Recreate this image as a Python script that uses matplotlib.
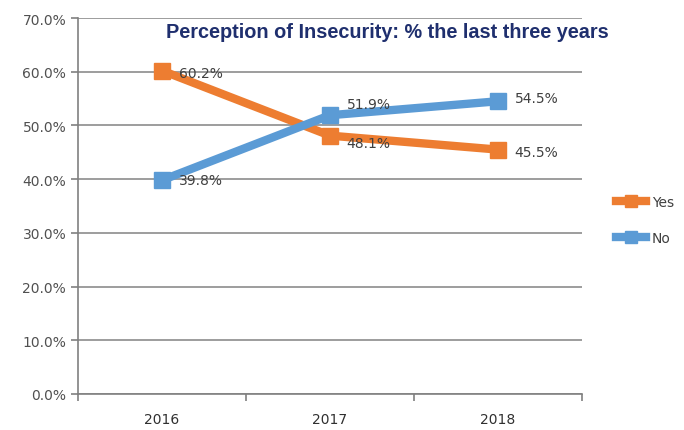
import numpy as np
import matplotlib.pyplot as plt

years = ['2016', '2017', '2018']
yes = [60.2, 48.1, 45.5]
no = [39.8, 51.9, 54.5]
yticks = [0, 10, 20, 30, 40, 50, 60, 70]

orange = '#ED7D31'
blue = '#5B9BD5'

fig = plt.figure(figsize=(6.84, 4.31), dpi=100)
ax = fig.add_axes([78/684, 36/431, 504/684, 376/431])

x = np.arange(len(years))
ax.plot(x, yes, color=orange, linewidth=6, marker='s', markersize=11,
        label='Yes', zorder=3)
ax.plot(x, no, color=blue, linewidth=6, marker='s', markersize=11,
        label='No', zorder=4)

# data labels
offsets_yes = [(12, -2), (12, -5), (12, -2)]
offsets_no = [(12, 0), (12, 8), (12, 2)]
for i in range(len(years)):
    ax.annotate(f'{yes[i]:.1f}%', (x[i], yes[i]), xytext=offsets_yes[i],
                textcoords='offset points', fontsize=10, color='#404040',
                va='center', ha='left', zorder=5)
    ax.annotate(f'{no[i]:.1f}%', (x[i], no[i]), xytext=offsets_no[i],
                textcoords='offset points', fontsize=10, color='#404040',
                va='center', ha='left', zorder=5)

ax.set_xlim(-0.5, 2.5)
ax.set_ylim(0, 70)
ax.set_yticks(yticks)
ax.set_yticklabels([f'{v:.1f}%' for v in yticks], fontsize=10, color='#505050')
ax.set_xticks(x)
ax.set_xticklabels(years, fontsize=10, color='#303030')
ax.set_xticks([-0.5, 0.5, 1.5, 2.5], minor=True)
ax.tick_params(axis='x', which='major', length=0, pad=13)
ax.tick_params(axis='x', which='minor', length=5, color='#808080', width=1.2)
ax.tick_params(axis='y', length=5, color='#808080', width=1.2)

ax.grid(axis='y', color='#8c8c8c', linewidth=1.2)
ax.set_axisbelow(True)
for s in ['top', 'right']:
    ax.spines[s].set_visible(False)
for s in ['left', 'bottom']:
    ax.spines[s].set_color('#808080')
    ax.spines[s].set_linewidth(1.2)

fig.text(387/684, 1 - 32/431, 'Perception of Insecurity: % the last three years',
         ha='center', va='center', fontsize=14.3, fontweight='bold',
         color='#1F2F6E', family=['Liberation Sans', 'DejaVu Sans'])

leg = fig.legend(loc='upper left', bbox_to_anchor=(603/684, 1 - 183/431),
                 frameon=False, fontsize=10, handlelength=2.2,
                 labelspacing=1.6, handletextpad=0.4, markerscale=0.85)
for t in leg.get_texts():
    t.set_color('#404040')

fig.savefig('out.png', dpi=100)
